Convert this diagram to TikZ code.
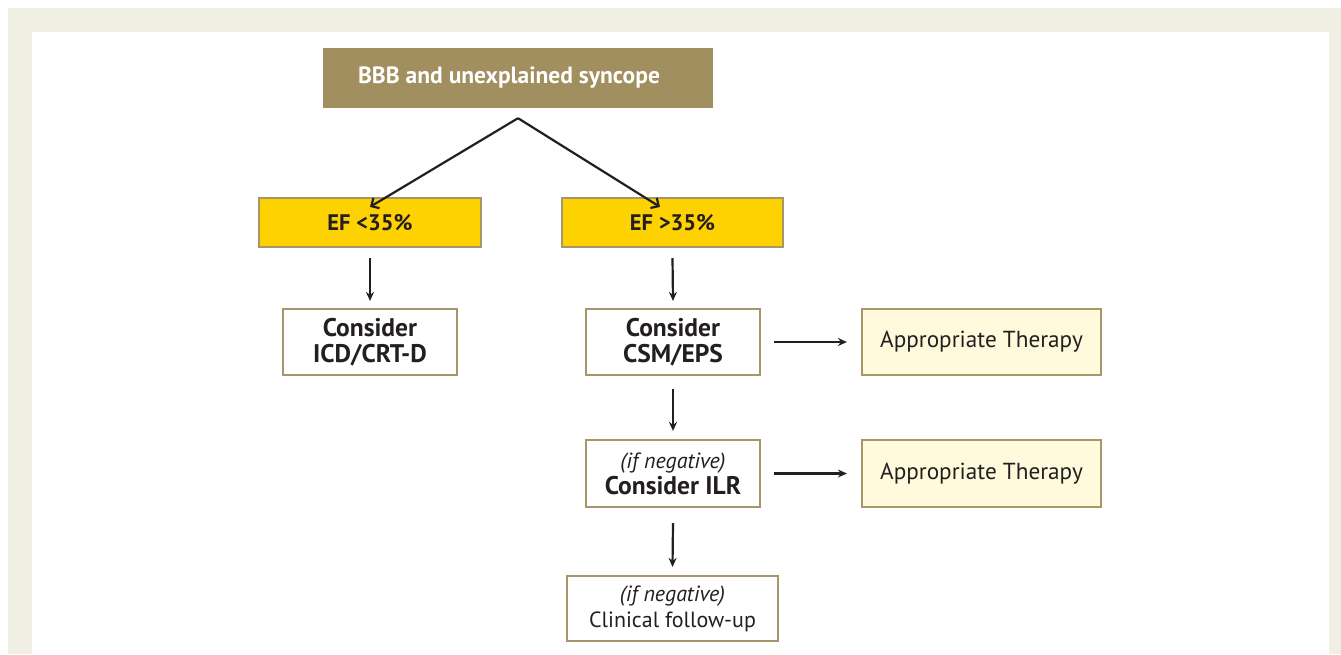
\documentclass[tikz,border=0pt]{standalone}
\usepackage{fontspec}
\setmainfont{PT Sans}
\usetikzlibrary{arrows.meta}
\definecolor{framebg}{HTML}{EFEFE3}
\definecolor{topfill}{HTML}{A28F5F}
\definecolor{boxline}{HTML}{A7966A}
\definecolor{efyellow}{HTML}{FDD200}
\definecolor{lightyel}{HTML}{FEFADB}
\definecolor{ink}{HTML}{231F20}
\tikzset{
  base/.style={draw=boxline, line width=2.2pt, text=ink, align=center, inner sep=0pt, font=\fontsize{22}{26}\selectfont},
  topbox/.style={fill=topfill, draw=none, text=white, minimum width=390pt, minimum height=60pt, inner sep=0pt, font=\bfseries\fontsize{23.5}{26}\selectfont},
  efbox/.style={base, fill=efyellow, minimum height=49pt, font=\bfseries\fontsize{22.5}{26}\selectfont},
  whitebox/.style={base, fill=white, minimum width=174pt, minimum height=66pt},
  boldtext/.style={font=\bfseries\fontsize{25.5}{25.5}\selectfont},
  therapy/.style={base, fill=lightyel, minimum width=239pt, minimum height=66pt, font=\fontsize{23.2}{26}\selectfont},
  arr/.style={draw=ink, line width=2.2pt, -{Stealth[length=9pt,width=8pt,inset=3pt]}},
  varr/.style={draw=ink, line width=2.2pt, -{Straight Barb[length=6pt,width=12pt]}}
}
\begin{document}
\begin{tikzpicture}[x=1pt,y=-1pt]
\useasboundingbox (0,0) rectangle (1341,654);
\fill[white] (0,0) rectangle (1341,654);
\fill[framebg] (8,8) rectangle (1341,654);
\fill[white] (32,32) rectangle (1329,654);

\node[topbox] (top) at (518,78) {\hspace*{-18pt}BBB and unexplained syncope};
\node[efbox, minimum width=222pt] (ef1) at (370,222.5) {EF <35\%};
\node[efbox, minimum width=221pt] (ef2) at (672.5,222.5) {EF >35\%};
\node[whitebox, boldtext] (icd) at (370,342) {Consider\\ICD/CRT-D};
\node[whitebox, boldtext] (csm) at (673,342) {Consider\\CSM/EPS};
\node[therapy] (at1) at (981.5,342) {Appropriate Therapy};
\node[whitebox, minimum height=67pt] (ilr) at (673,473.5) {\textit{(if negative)}\\{\bfseries\fontsize{25.5}{26}\selectfont Consider ILR}};
\node[therapy, minimum height=67pt] (at2) at (981.5,473.5) {Appropriate Therapy};
\node[whitebox, minimum width=211pt, minimum height=65pt] (cfu) at (672.5,608.5) {\textit{(if negative)}\\Clinical follow-up};

\coordinate (apex) at ([yshift=-10pt]top.south);
\draw[varr] (apex) -- ([yshift=-10pt]ef1.north);
\draw[varr] (apex) -- ([xshift=-12.5pt,yshift=-10pt]ef2.north);
\draw[arr] ([yshift=-10pt]ef1.south) -- ([yshift=7pt]icd.north);
\draw[arr] ([yshift=-10pt]ef2.south) -- ([yshift=7pt]csm.north);
\draw[arr] ([xshift=13pt]csm.east) -- ([xshift=-14pt]at1.west);
\draw[arr] ([yshift=-13pt]csm.south) -- ([yshift=8pt]ilr.north);
\draw[arr] ([xshift=13pt]ilr.east) -- ([xshift=-14pt]at2.west);
\draw[arr] ([yshift=-15pt]ilr.south) -- ([yshift=8pt]cfu.north);
\end{tikzpicture}
\end{document}
